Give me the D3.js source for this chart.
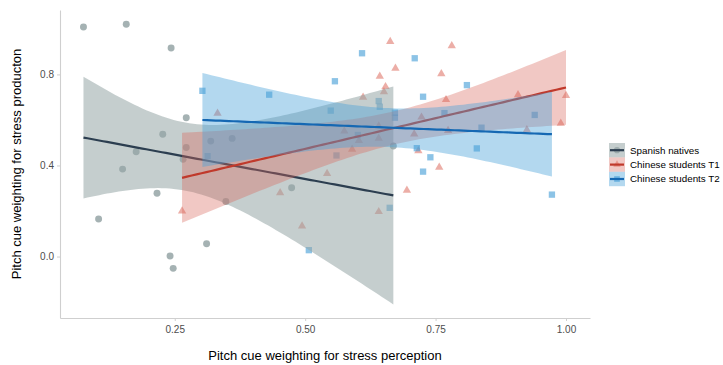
<!DOCTYPE html>
<html>
<head>
<meta charset="utf-8">
<script src="https://cdn.jsdelivr.net/npm/d3@7"></script>
<style>
  body { margin: 0; background: #fff; }
  svg { font-family: "Liberation Sans", Arial, sans-serif; }
</style>
</head>
<body>
<div id="chart"></div>
<script>
// Series names, in legend order.
const group_names = [ 'Spanish natives', 'Chinese students T1', 'Chinese students T2' ];

// Spanish natives (circles).
const spanish_x = [ 0.075, 0.157, 0.243, 0.272, 0.227, 0.176, 0.319, 0.360, 0.266, 0.272,
                    0.150, 0.216, 0.348, 0.104, 0.311, 0.241, 0.247, 0.474, 0.669 ];
const spanish_y = [ 1.008, 1.020, 0.916, 0.610, 0.537, 0.460, 0.507, 0.519, 0.427, 0.479,
                    0.384, 0.278, 0.242, 0.165, 0.056, 0.002, -0.052, 0.302, 0.486 ];

// Chinese students T1 (triangles).
const t1_x = [ 0.264, 0.332, 0.452, 0.494, 0.542, 0.575, 0.590, 0.603, 0.611, 0.641,
               0.641, 0.641, 0.643, 0.651, 0.654, 0.663, 0.673, 0.695, 0.709, 0.717,
               0.723, 0.757, 0.761, 0.770, 0.774, 0.781, 0.908, 0.925, 0.990, 1.000 ];
const t1_y = [ 0.200, 0.629, 0.280, 0.134, 0.364, 0.551, 0.471, 0.509, 0.699, 0.519,
               0.573, 0.197, 0.792, 0.724, 0.746, 0.944, 0.827, 0.291, 0.538, 0.464,
               0.612, 0.392, 0.803, 0.689, 0.553, 0.926, 0.710, 0.557, 0.585, 0.707 ];

// Chinese students T2 (squares).
const t2_x = [ 0.303, 0.313, 0.609, 0.557, 0.431, 0.549, 0.641, 0.643, 0.672, 0.672,
               0.601, 0.560, 0.726, 0.714, 0.726, 0.740, 0.710, 0.810, 0.767, 0.838,
               0.940, 0.829, 0.973, 0.662, 0.507 ];
const t2_y = [ 0.728, 0.441, 0.893, 0.770, 0.711, 0.641, 0.683, 0.658, 0.632, 0.610,
               0.534, 0.444, 0.702, 0.476, 0.373, 0.436, 0.871, 0.753, 0.630, 0.566,
               0.622, 0.475, 0.272, 0.214, 0.028 ];

// Axis ticks.
const x_ticks = [ 0.25, 0.50, 0.75, 1.00 ];
const y_ticks = [ 0.0, 0.4, 0.8 ];

const x_title = 'Pitch cue weighting for stress perception';
const y_title = 'Pitch cue weighting for stress producton';

// Styling per series.
const series_style = [
  { shape: d3.symbolCircle,   size: 38, point: '#95a5a6', point_op: 0.85, line: '#2c3e50', band: '#95a5a6', band_op: 0.55 },
  { shape: d3.symbolTriangle, size: 30, point: '#e0786c', point_op: 0.6,  line: '#c0392b', band: '#d9675b', band_op: 0.36 },
  { shape: d3.symbolSquare,   size: 40, point: '#3f9bd6', point_op: 0.6,  line: '#1568b3', band: '#4aa3d9', band_op: 0.42 }
];

const width = 723, height = 365;
const panel = { left: 60, right: 590, top: 10, bottom: 318 };

// 97.5% quantile of Student t (Cornish-Fisher expansion).
function qt975( df ){
  const z = 1.959964;
  const g1 = ( Math.pow(z,3) + z ) / 4;
  const g2 = ( 5*Math.pow(z,5) + 16*Math.pow(z,3) + 3*z ) / 96;
  const g3 = ( 3*Math.pow(z,7) + 19*Math.pow(z,5) + 17*Math.pow(z,3) - 15*z ) / 384;
  const g4 = ( 79*Math.pow(z,9) + 776*Math.pow(z,7) + 1482*Math.pow(z,5) - 1920*Math.pow(z,3) - 945*z ) / 92160;
  return z + g1/df + g2/(df*df) + g3/Math.pow(df,3) + g4/Math.pow(df,4);
}

// Ordinary least squares fit with a 95% confidence band, like geom_smooth( method = 'lm' ).
function lm_band( xs, ys ){
  const n = xs.length;
  const mx = d3.mean( xs ), my = d3.mean( ys );
  let sxx = 0, sxy = 0;
  xs.forEach( function( x, i ){ sxx += (x-mx)*(x-mx); sxy += (x-mx)*(ys[i]-my); } );
  const slope = sxy / sxx;
  const icpt = my - slope*mx;
  let rss = 0;
  xs.forEach( function( x, i ){ const r = ys[i] - (icpt + slope*x); rss += r*r; } );
  const s = Math.sqrt( rss / (n-2) );
  const t = qt975( n-2 );
  const lo = d3.min( xs ), hi = d3.max( xs );
  const out = [];
  for( let k = 0; k < 80; k++ ){
    const x = lo + (hi-lo)*k/79;
    const fit = icpt + slope*x;
    const se = s * Math.sqrt( 1/n + (x-mx)*(x-mx)/sxx );
    out.push( { x: x, y: fit, ymin: fit - t*se, ymax: fit + t*se } );
  }
  return out;
}

const series = [
  { name: group_names[0], xs: spanish_x, ys: spanish_y },
  { name: group_names[1], xs: t1_x, ys: t1_y },
  { name: group_names[2], xs: t2_x, ys: t2_y }
];

const svg = d3.select( '#chart' ).append( 'svg' )
  .attr( 'width', width )
  .attr( 'height', height );

const x_scale = d3.scaleLinear().domain( [0.03, 1.046] ).range( [panel.left, panel.right] );
const y_scale = d3.scaleLinear().domain( [-0.27, 1.083] ).range( [panel.bottom, panel.top] );

// Points first, smooths on top (ggplot layer order).
const point_layer = svg.append( 'g' );
series.forEach( function( s, i ){
  const st = series_style[i];
  point_layer.append( 'g' )
    .selectAll( 'path' )
    .data( s.xs.map( function( x, j ){ return { x: x, y: s.ys[j] }; } ) )
    .enter().append( 'path' )
      .attr( 'd', d3.symbol().type( st.shape ).size( st.size ) )
      .attr( 'transform', function( d ){ return 'translate(' + x_scale( d.x ) + ',' + y_scale( d.y ) + ')'; } )
      .attr( 'fill', st.point )
      .attr( 'fill-opacity', st.point_op );
});

const area = d3.area()
  .x( function( d ){ return x_scale( d.x ); } )
  .y0( function( d ){ return y_scale( d.ymin ); } )
  .y1( function( d ){ return y_scale( d.ymax ); } );
const line = d3.line()
  .x( function( d ){ return x_scale( d.x ); } )
  .y( function( d ){ return y_scale( d.y ); } );

const smooth_layer = svg.append( 'g' );
series.forEach( function( s, i ){
  const st = series_style[i];
  const band = lm_band( s.xs, s.ys );
  smooth_layer.append( 'path' )
    .attr( 'd', area( band ) )
    .attr( 'fill', st.band )
    .attr( 'fill-opacity', st.band_op );
  smooth_layer.append( 'path' )
    .attr( 'd', line( band ) )
    .attr( 'fill', 'none' )
    .attr( 'stroke', st.line )
    .attr( 'stroke-width', 2.2 );
});

// Axes.
const x_axis = svg.append( 'g' )
  .attr( 'transform', 'translate(0,' + panel.bottom + ')' )
  .call( d3.axisBottom( x_scale ).tickValues( x_ticks ).tickFormat( d3.format( '.2f' ) ).tickSize( 3 ).tickSizeOuter( 0 ) );
const y_axis = svg.append( 'g' )
  .attr( 'transform', 'translate(' + panel.left + ',0)' )
  .call( d3.axisLeft( y_scale ).tickValues( y_ticks ).tickFormat( d3.format( '.1f' ) ).tickSize( 3 ).tickSizeOuter( 0 ) );
[ x_axis, y_axis ].forEach( function( ax ){
  ax.select( '.domain' ).attr( 'stroke', '#cfcfcf' ).attr( 'stroke-width', 1.1 );
  ax.selectAll( '.tick line' ).attr( 'stroke', '#cfcfcf' );
  ax.selectAll( '.tick text' )
    .attr( 'fill', '#4d4d4d' )
    .style( 'font-size', '10px' )
    .style( 'font-family', '"Liberation Sans", Arial, sans-serif' );
});
x_axis.selectAll( '.tick text' ).attr( 'dy', '0.9em' );
y_axis.selectAll( '.tick text' ).attr( 'x', -6 );

// Axis titles.
svg.append( 'text' )
  .attr( 'x', (panel.left + panel.right) / 2 )
  .attr( 'y', 360 )
  .attr( 'text-anchor', 'middle' )
  .style( 'font-size', '13px' )
  .attr( 'fill', '#000' )
  .text( x_title );
svg.append( 'text' )
  .attr( 'transform', 'translate(21,' + (panel.top + panel.bottom) / 2 + ') rotate(-90)' )
  .attr( 'text-anchor', 'middle' )
  .style( 'font-size', '13px' )
  .attr( 'fill', '#000' )
  .text( y_title );

// Legend.
const key_w = 16, key_h = 14.4;
const legend = svg.append( 'g' ).attr( 'transform', 'translate(609,143)' );
series.forEach( function( s, i ){
  const st = series_style[i];
  const g = legend.append( 'g' ).attr( 'transform', 'translate(0,' + i*key_h + ')' );
  g.append( 'rect' )
    .attr( 'width', key_w ).attr( 'height', key_h )
    .attr( 'fill', st.band ).attr( 'fill-opacity', st.band_op );
  g.append( 'path' )
    .attr( 'd', d3.symbol().type( st.shape ).size( st.size * 0.8 ) )
    .attr( 'transform', 'translate(' + key_w/2 + ',' + key_h/2 + ')' )
    .attr( 'fill', st.point ).attr( 'fill-opacity', st.point_op );
  g.append( 'line' )
    .attr( 'x1', 1 ).attr( 'x2', key_w - 1 )
    .attr( 'y1', key_h/2 ).attr( 'y2', key_h/2 )
    .attr( 'stroke', st.line ).attr( 'stroke-width', 2.2 );
  g.append( 'text' )
    .attr( 'x', key_w + 5 )
    .attr( 'y', key_h/2 )
    .attr( 'dy', '0.35em' )
    .style( 'font-size', '9.8px' )
    .attr( 'fill', '#000' )
    .text( s.name );
});
</script>
</body>
</html>
